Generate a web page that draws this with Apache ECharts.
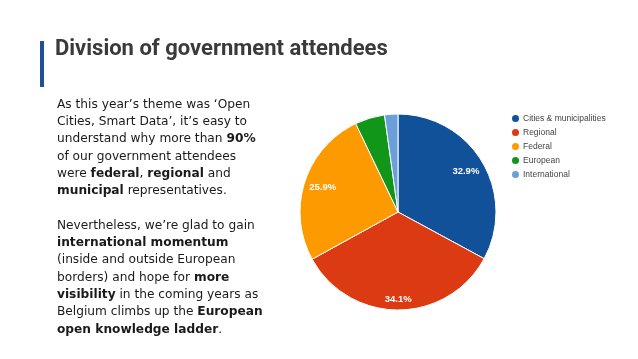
<!DOCTYPE html>
<html><head><meta charset="utf-8">
<script src="https://cdn.jsdelivr.net/npm/echarts@6/dist/echarts.min.js"></script>
<style>html,body{margin:0;padding:0;background:#fff}#c{width:638px;height:359px}</style>
</head><body><div id="c"></div>
<script>
const categories = ['Cities & municipalities', 'Regional', 'Federal', 'European', 'International'];
const shares = [32.9, 34.1, 25.9, 4.9, 2.2];
const sliceColors = ['#11519a', '#dc3a12', '#fd9a00', '#119619', '#6c9fd9'];
const titleText = 'Division of government attendees';
const para1 = [
  'As this year\u2019s theme was \u2018Open',
  'Cities, Smart Data\u2019, it\u2019s easy to',
  'understand why more than {b|90%}',
  'of our government attendees',
  'were {b|federal}, {b|regional} and',
  '{b|municipal} representatives.'
];
const para2 = [
  'Nevertheless, we\u2019re glad to gain',
  '{b|international momentum}',
  '(inside and outside European',
  'borders) and hope for {b|more}',
  '{b|visibility} in the coming years as',
  'Belgium climbs up the {b|European}',
  '{b|open knowledge ladder}.'
];

const chart = echarts.init(document.getElementById('c'), null, {renderer: 'canvas'});
const bodyFont = 'DejaVu Sans';
const bodySize = 12.2;
const lh = 17.3;
function para(lines, y) {
  return {
    type: 'text', left: 57, top: y,
    style: {
      text: lines.join('\n'),
      fontFamily: bodyFont, fontSize: bodySize, lineHeight: lh, fill: '#1a1a1a',
      rich: { b: { fontFamily: bodyFont, fontSize: bodySize, fontWeight: 'bold', lineHeight: lh, color: '#111' } }
    }
  };
}
const data = categories.map((n, i) => ({name: n, value: shares[i], itemStyle: {color: sliceColors[i]}}));
chart.setOption({
  animation: false,
  title: {
    text: titleText, left: 50, top: 33,
    textStyle: {fontFamily: 'Roboto', fontWeight: 'bold', fontSize: 22, color: '#3a3a3a'}
  },
  legend: {
    orient: 'vertical', left: 505, top: 108, icon: 'circle',
    itemWidth: 9, itemHeight: 9, itemGap: 3,
    textStyle: {fontFamily: 'Liberation Sans', fontSize: 8.5, color: '#444', padding: [0, 0, 0, -2]},
    data: categories
  },
  graphic: [
    {type: 'rect', shape: {x: 40, y: 41, width: 4, height: 46}, style: {fill: '#1f4e9a'}},
    para(para1, 96),
    para(para2, 217)
  ],
  series: [
    {
      type: 'pie', center: [398, 212], radius: [0, 98], startAngle: 90, clockwise: true,
      data: data, label: {show: false}, labelLine: {show: false},
      itemStyle: {borderColor: '#fff', borderWidth: 1}, emphasis: {disabled: true}
    },
    {
      type: 'pie', center: [398, 212], radius: [54, 98], startAngle: 90, clockwise: true,
      data: categories.map((n, i) => ({
        name: n, value: shares[i],
        label: {show: i < 3, offset: i === 1 ? [0, 8] : [0, 0]}
      })),
      itemStyle: {color: 'rgba(0,0,0,0)'}, silent: true, legendHoverLink: false,
      label: {position: 'inside', formatter: p => p.value.toFixed(1) + '%',
        fontFamily: 'Liberation Sans', fontWeight: 'bold', fontSize: 9.5, color: '#fff'},
      labelLine: {show: false}, emphasis: {disabled: true}
    }
  ]
});
</script></body></html>
